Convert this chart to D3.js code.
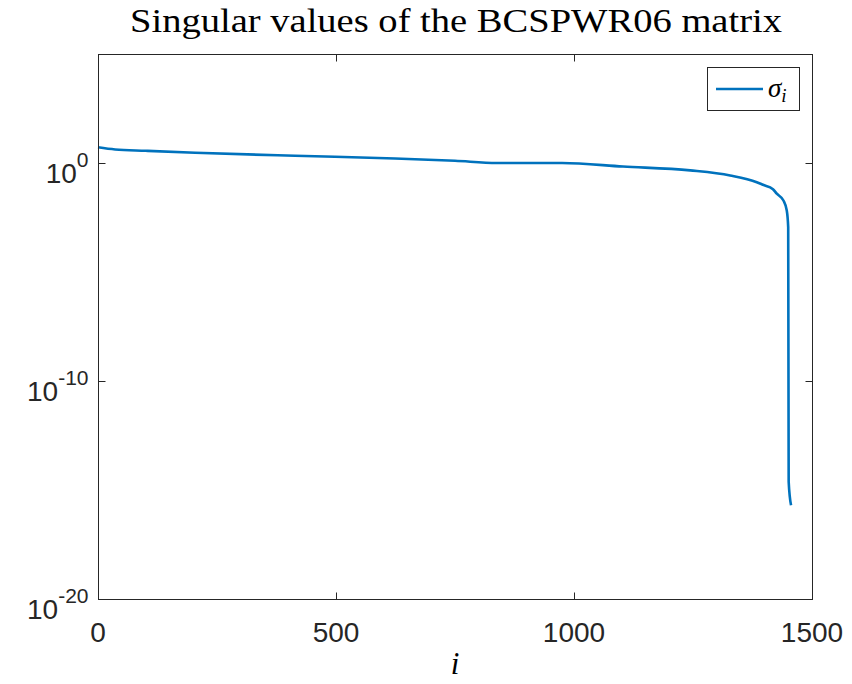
<!DOCTYPE html>
<html>
<head>
<meta charset="utf-8">
<script src="https://cdn.jsdelivr.net/npm/d3@7"></script>
<style>
  body { margin: 0; background: #fff; }
</style>
</head>
<body>
<div id="chart"></div>
<script>
// singular values (index, sigma)
const idx = [0, 36, 100, 204, 414, 624, 750, 838, 975, 1103, 1244, 1328, 1384, 1397, 1418, 1426, 1440, 1447, 1450, 1451, 1456];
const sigma = [5.25, 4.17, 3.63, 2.95, 2.14, 1.62, 1.26, 1.0, 1.0, 0.69, 0.457, 0.269, 0.132, 0.1, 0.063, 0.039, 0.019, 0.0066, 0.00115, 2.4e-15, 2.0e-16];
const xTicks = [0, 500, 1000, 1500];
const yTicks = [1e-20, 1e-10, 1e0];
const yTickExp = ["-20", "-10", "0"];

const width = 852, height = 684;
const margin = { top: 54, right: 40, bottom: 85, left: 98 };
const innerW = width - margin.left - margin.right; // 714
const innerH = height - margin.top - margin.bottom; // 545

const svg = d3.select("#chart").append("svg")
    .attr("width", width)
    .attr("height", height);

const x = d3.scaleLinear().domain([0, 1500]).range([margin.left, margin.left + innerW]);
const y = d3.scaleLog().domain([1e-20, 1e5]).range([margin.top + innerH, margin.top]);

const axisColor = "#262626";
const tickLen = 7;

// data line
const pts = idx.map((d, k) => ({ i: d, s: sigma[k] }));
svg.append("path")
    .datum(pts)
    .attr("fill", "none")
    .attr("stroke", "#0072BD")
    .attr("stroke-width", 2.6)
    .attr("stroke-linejoin", "round")
    .attr("d", d3.line().x(d => x(d.i)).y(d => y(d.s)).curve(d3.curveMonotoneX));

// box
const x0 = margin.left + 0.5, x1 = margin.left + innerW + 0.5;
const y0 = margin.top + 0.5, y1 = margin.top + innerH + 0.5;
svg.append("rect")
    .attr("x", x0).attr("y", y0)
    .attr("width", x1 - x0).attr("height", y1 - y0)
    .attr("fill", "none")
    .attr("stroke", axisColor)
    .attr("stroke-width", 1);

// x ticks (bottom and top, inward)
xTicks.forEach(t => {
    const px = Math.round(x(t)) + 0.5;
    svg.append("line").attr("x1", px).attr("x2", px).attr("y1", y1).attr("y2", y1 - tickLen)
        .attr("stroke", axisColor);
    svg.append("line").attr("x1", px).attr("x2", px).attr("y1", y0).attr("y2", y0 + tickLen)
        .attr("stroke", axisColor);
    svg.append("text")
        .attr("x", x(t)).attr("y", y1 + 42)
        .attr("text-anchor", "middle")
        .style("font-family", "Liberation Sans, Arial, sans-serif")
        .style("font-size", "28px")
        .attr("fill", axisColor)
        .text(t);
});

// y ticks (left and right, inward)
yTicks.forEach((t, k) => {
    const py = Math.round(y(t)) + 0.5;
    svg.append("line").attr("x1", x0).attr("x2", x0 + tickLen).attr("y1", py).attr("y2", py)
        .attr("stroke", axisColor);
    svg.append("line").attr("x1", x1).attr("x2", x1 - tickLen).attr("y1", py).attr("y2", py)
        .attr("stroke", axisColor);
    const lbl = svg.append("text")
        .attr("x", x0 - 10).attr("y", py + 19)
        .attr("text-anchor", "end")
        .style("font-family", "Liberation Sans, Arial, sans-serif")
        .style("font-size", "28px")
        .attr("fill", axisColor);
    lbl.append("tspan").text("10");
    lbl.append("tspan")
        .attr("dy", -16)
        .style("font-size", "21px")
        .text(yTickExp[k]);
});

// title
svg.append("text")
    .attr("x", 130).attr("y", 32)
    .attr("textLength", 652)
    .attr("lengthAdjust", "spacingAndGlyphs")
    .style("font-family", "Liberation Serif, DejaVu Serif, serif")
    .style("font-size", "33px")
    .attr("fill", "#000")
    .text("Singular values of the BCSPWR06 matrix");

// x label
svg.append("text")
    .attr("x", margin.left + innerW / 2).attr("y", 674)
    .attr("text-anchor", "middle")
    .style("font-family", "Liberation Serif, DejaVu Serif, serif")
    .style("font-style", "italic")
    .style("font-size", "31px")
    .attr("fill", "#000")
    .text("i");

// legend
const lg = svg.append("g");
lg.append("rect")
    .attr("x", 707.5).attr("y", 67.5)
    .attr("width", 92).attr("height", 43)
    .attr("fill", "#fff")
    .attr("stroke", axisColor)
    .attr("stroke-width", 1);
lg.append("line")
    .attr("x1", 716).attr("x2", 763).attr("y1", 89).attr("y2", 89)
    .attr("stroke", "#0072BD").attr("stroke-width", 2.6);
const lt = lg.append("text")
    .attr("x", 768).attr("y", 97)
    .style("font-family", "Liberation Serif, DejaVu Serif, serif")
    .style("font-style", "italic")
    .style("font-size", "27px")
    .attr("fill", "#000");
lt.append("tspan").text("σ");
lt.append("tspan").attr("dy", 5).style("font-size", "19px").text("i");
</script>
</body>
</html>
